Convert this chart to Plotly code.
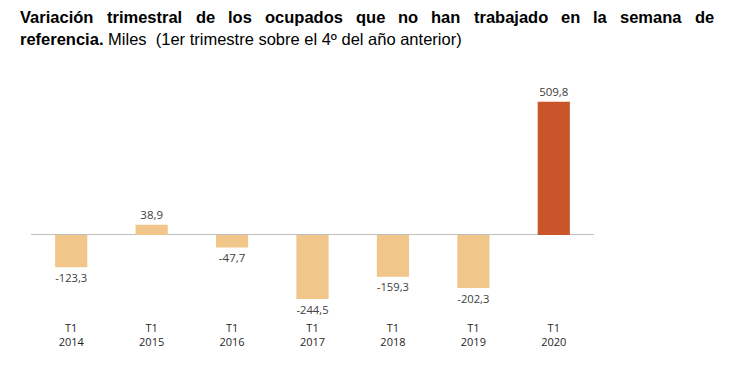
import plotly.graph_objects as go

categories = ["T1<br>2014", "T1<br>2015", "T1<br>2016", "T1<br>2017", "T1<br>2018", "T1<br>2019", "T1<br>2020"]
values = [-123.3, 38.9, -47.7, -244.5, -159.3, -202.3, 509.8]
bar_colors = ["#F0C68A"] * 6 + ["#C9552A"]

title_words = ["Variación", "trimestral", "de", "los", "ocupados", "que", "no", "han",
               "trabajado", "en", "la", "semana", "de"]
# left pixel of each word (justified line)
title_word_px = [18, 105.3, 193.6, 225.9, 262.8, 353.8, 396.2, 429.4, 471.8, 559.1, 591.4, 618.2, 692.7]
title_line2_bold = "referencia."
title_line2_rest = " Miles&nbsp;&nbsp;(1er trimestre sobre el 4º del año anterior)"

W, H = 750, 380
ML, MR, MT, MB = 31, 156, 80, 67
PW = W - ML - MR
PH = H - MT - MB
TITLE_FONT = dict(family="Liberation Sans, Arial, sans-serif", size=16.5, color="#000000")

fig = go.Figure(go.Bar(
    x=categories,
    y=values,
    marker=dict(color=bar_colors, line=dict(width=0)),
    width=0.4,
    texttemplate="%{y:.1f}",
    textposition="outside",
    textfont=dict(family="Open Sans, Liberation Sans, sans-serif", size=11.5, color="#404040"),
    cliponaxis=False,
))


def px_to_paper_x(px):
    return (px - ML) / PW


def py_to_paper_y(py):
    return 1 - (py - MT) / PH


annotations = []
for w, px in zip(title_words, title_word_px):
    annotations.append(dict(
        text="<b>" + w + "</b>", xref="paper", yref="paper",
        x=px_to_paper_x(px), y=py_to_paper_y(17), xanchor="left", yanchor="middle",
        showarrow=False, font=TITLE_FONT,
    ))
annotations.append(dict(
    text="<b>" + title_line2_bold + "</b>" + title_line2_rest, xref="paper", yref="paper",
    x=px_to_paper_x(18), y=py_to_paper_y(39), xanchor="left", yanchor="middle",
    showarrow=False, font=TITLE_FONT,
))

fig.update_layout(
    width=W, height=H,
    margin=dict(l=ML, r=MR, t=MT, b=MB, pad=0),
    paper_bgcolor="white", plot_bgcolor="white",
    separators=",.",
    showlegend=False,
    annotations=annotations,
)
fig.update_xaxes(
    showgrid=False, showline=False, ticks="",
    tickfont=dict(family="Open Sans, Liberation Sans, sans-serif", size=11, color="#1F1F1F"),
    ticklabelstandoff=7,
    range=[-0.5, 6.5],
)
fig.update_yaxes(
    range=[-298.3, 592.7], showgrid=False, showticklabels=False, ticks="",
    zeroline=True, zerolinecolor="#BFBFBF", zerolinewidth=1, showline=False,
)

fig.write_html("out.html", config={"displayModeBar": False},
               post_script="document.body.style.margin='0';")
